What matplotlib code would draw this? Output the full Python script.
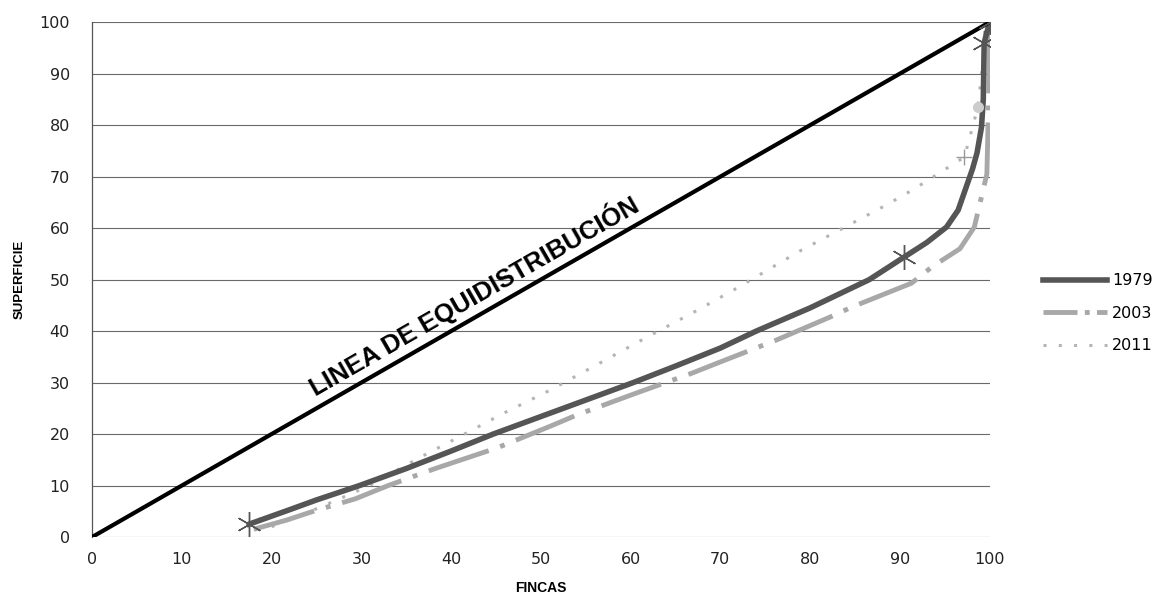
import matplotlib.pyplot as plt
from matplotlib.lines import Line2D

# Lorenz curves of land distribution
fincas_1979 = [17.5, 22, 25, 29.8, 35, 40, 44.7, 50, 55, 60.3, 65, 70, 74, 80,
               86.6, 90.5, 93, 95.2, 96.5, 97.4, 98.1, 98.6, 99.1, 99.3, 99.4, 100]
superficie_1979 = [2.5, 5.3, 7.2, 10, 13.3, 16.7, 20, 23.4, 26.6, 30, 33.2, 36.7, 40, 44.5,
                   50, 54.4, 57.2, 60.2, 63.5, 68, 71.5, 74.6, 79.6, 85, 96, 100]

fincas_2003 = [18, 21.7, 25, 29.3, 33, 38.4, 45.1, 51.3, 54, 60.7, 66.8, 69.7, 76.3,
               82.2, 84.7, 91.3, 93.6, 96.7, 98.3, 99.7, 99.9, 100]
superficie_2003 = [1.5, 3.3, 5.2, 7.4, 10, 13.4, 17.3, 21.7, 23.7, 28, 31.8, 33.8, 38.3,
                   42.7, 44.7, 49.3, 52.5, 56, 60.2, 70.5, 85, 100]

fincas_2011 = [20, 25, 29, 31.5, 34, 36.9, 40.2, 45.8, 51, 54.7, 61.8, 67.4, 72, 78.8,
               84, 88.5, 91.4, 94.4, 97.2, 98.7, 99.5, 100]
superficie_2011 = [2, 5.5, 8.5, 10.5, 13, 15.8, 18.8, 24, 28.5, 32, 38.8, 44, 48.5, 55.5,
                   60.3, 64.5, 67.4, 70.7, 73.8, 83.5, 96, 100]

# equidistribution line
equi_x = [0, 100]
equi_y = [0, 100]

ticks = list(range(0, 101, 10))

c1979 = '#555555'
c2003 = '#a8a8a8'
c2011 = '#b4b4b4'

fig = plt.figure(figsize=(11.52, 6), dpi=100)
ax = fig.add_axes([0.080, 0.105, 0.779, 0.858])

for t in ticks:
    ax.axhline(t, color='#6a6a6a', lw=0.8, zorder=1)

ax.plot(equi_x, equi_y, color='black', lw=3, zorder=5, solid_capstyle='butt')

ax.plot(fincas_2011, superficie_2011, color=c2011, lw=2.2,
        linestyle=(0, (1, 4)), zorder=2)
ax.plot(fincas_2003, superficie_2003, color=c2003, lw=3.5,
        linestyle=(0, (13, 2.5, 1, 2.5)), zorder=3)
ax.plot(fincas_1979, superficie_1979, color=c1979, lw=4, zorder=4)

# markers
idx = (0, 15, 24, 25)
ax.plot([fincas_1979[i] for i in idx], [superficie_1979[i] for i in idx],
        linestyle='none', marker=(6, 2, 0), markersize=18, color=c1979,
        markeredgewidth=1.0, zorder=6)
ax.plot([fincas_2011[18]], [superficie_2011[18]],
        linestyle='none', marker='+', markersize=12, color='#999999',
        markeredgewidth=1.0, zorder=6)
ax.plot([fincas_2011[19]], [superficie_2011[19]],
        linestyle='none', marker='o', markersize=8, color='#cccccc',
        markeredgewidth=0, zorder=6)

ax.text(43.0, 45.4, 'LINEA DE EQUIDISTRIBUCIÓN', rotation=29.8, rotation_mode='anchor',
        ha='center', va='baseline', fontsize=18.5, fontweight='bold',
        family='Liberation Sans', zorder=7)

ax.set_xlim(0, 100)
ax.set_ylim(0, 100)
ax.set_xticks(ticks)
ax.set_yticks(ticks)
ax.tick_params(length=0, labelsize=11.5, colors='#222222')
ax.tick_params(axis='y', pad=16)
ax.tick_params(axis='x', pad=11)
for s in ('top', 'right', 'bottom'):
    ax.spines[s].set_visible(False)
ax.spines['left'].set_color('#555555')
ax.spines['left'].set_linewidth(0.9)

ax.set_xlabel('FINCAS', fontsize=10, fontweight='bold', family='Liberation Sans', labelpad=10)
ax.set_ylabel('SUPERFICIE', fontsize=9.5, fontweight='bold', family='Liberation Sans', labelpad=10)

handles = [
    Line2D([], [], color=c1979, lw=4),
    Line2D([], [], color=c2003, lw=3.5, linestyle=(0, (7, 1.5, 1, 1.5))),
    Line2D([], [], color=c2011, lw=2.2, linestyle=(0, (1, 4))),
]
fig.legend(handles, ['1979', '2003', '2011'], loc='center left',
           bbox_to_anchor=(0.893, 0.478), frameon=False, fontsize=11.5,
           handlelength=4.0, handletextpad=0.3, labelspacing=1.1)

fig.savefig('out.png', dpi=100)
